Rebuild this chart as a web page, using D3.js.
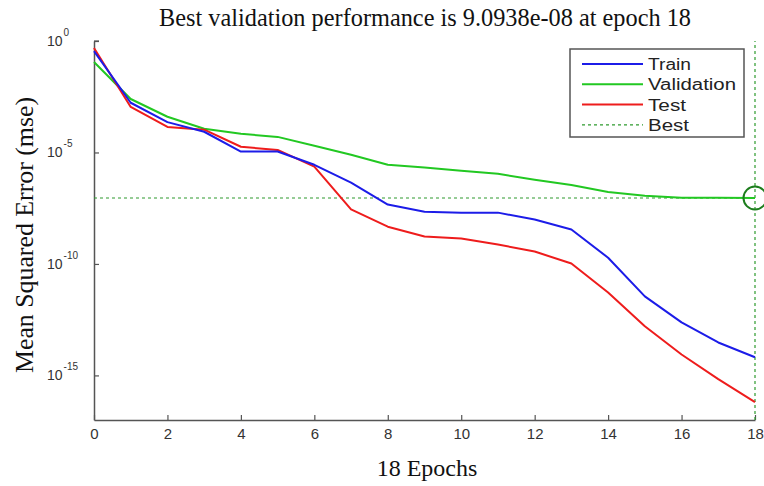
<!DOCTYPE html>
<html>
<head>
<meta charset="utf-8">
<script src="https://cdn.jsdelivr.net/npm/d3@7/dist/d3.min.js"></script>
<style>
  body { margin: 0; background: #fff; }
  svg { display: block; }
</style>
</head>
<body>
<div id="chart"></div>
<script>
// values
var epochs = [0, 1, 2, 3, 4, 5, 6, 7, 8, 9, 10, 11, 12, 13, 14, 15, 16, 17, 18];
var trainMse = [3.5e-1, 1.7e-3, 2.3e-4, 8.5e-5, 1.1e-5, 1.1e-5, 2.8e-6, 4.4e-7, 4.6e-8, 2.2e-8,
                2.0e-8, 2.0e-8, 9.8e-9, 3.5e-9, 1.9e-10, 3.5e-12, 2.4e-13, 3.0e-14, 6.5e-15];
var validationMse = [1.15e-1, 2.5e-3, 4.0e-4, 1.15e-4, 6.9e-5, 5.0e-5, 2.0e-5, 7.9e-6, 2.8e-6, 2.1e-6,
                     1.5e-6, 1.1e-6, 6.0e-7, 3.5e-7, 1.7e-7, 1.15e-7, 9.3e-8, 9.2e-8, 9.0938e-8];
var testMse = [4.9e-1, 1.1e-3, 1.4e-4, 1.05e-4, 1.8e-5, 1.3e-5, 2.3e-6, 2.8e-8, 4.7e-9, 1.7e-9,
               1.4e-9, 7.4e-10, 3.6e-10, 1.05e-10, 5.2e-12, 1.6e-13, 8.7e-15, 6.8e-16, 6.3e-17];
var xTicks = [0, 2, 4, 6, 8, 10, 12, 14, 16, 18];
var yTickExps = [0, -5, -10, -15];
var bestEpoch = 18;
var bestValue = 9.0938e-8;
var legendNames = ["Train", "Validation", "Test", "Best"];

var width = 764, height = 486;
var margin = {left: 94, right: 9, top: 41, bottom: 66};

var svg = d3.select("#chart").append("svg")
    .attr("width", width)
    .attr("height", height);

var x = d3.scaleLinear().domain([0, 18]).range([margin.left, width - margin.right]);
var y = d3.scaleLog().domain([1e-17, 1]).range([height - margin.bottom, margin.top]);

var axisColor = "#555";
var sans = "Liberation Sans, Arial, sans-serif";
var serif = "Liberation Serif, Times New Roman, serif";

/* axes, ticks pointing inward */
var xAxis = svg.append("g")
    .attr("transform", "translate(0," + (height - margin.bottom) + ")")
    .call(d3.axisBottom(x).tickValues(xTicks).tickSize(-5).tickPadding(8).tickSizeOuter(0));

var yAxis = svg.append("g")
    .attr("transform", "translate(" + margin.left + ",0)")
    .call(d3.axisLeft(y).tickValues(yTickExps.map(function(e) { return Math.pow(10, e); }))
        .tickSize(-5).tickSizeOuter(0).tickFormat(""));

[xAxis, yAxis].forEach(function(g) {
    g.select(".domain").attr("stroke", axisColor).attr("stroke-width", 1.5);
    g.selectAll(".tick line").attr("stroke", axisColor).attr("stroke-width", 1.2);
});
xAxis.selectAll(".tick text")
    .attr("font-family", sans)
    .attr("font-size", 15)
    .attr("fill", "#333");

// top tick of the y axis
svg.append("line")
    .attr("x1", margin.left).attr("x2", margin.left + 5)
    .attr("y1", y(1)).attr("y2", y(1))
    .attr("stroke", axisColor).attr("stroke-width", 1.2);

// y tick labels with superscripts
var yLabels = svg.append("g").attr("class", "ylabels");
yTickExps.forEach(function(e) {
    var t = yLabels.append("text")
        .attr("x", 47)
        .attr("y", y(Math.pow(10, e)) + 5)
        .attr("text-anchor", "start")
        .attr("font-family", sans)
        .attr("font-size", 14)
        .attr("fill", "#333");
    t.append("tspan").text("10");
    t.append("tspan").attr("dx", 1).attr("dy", -10).attr("font-size", 10).text(e === 0 ? "0" : "-" + (-e));
});

/* best lines */
var bestColor = "#2e9a2e";
svg.append("line")
    .attr("x1", x(0)).attr("x2", x(bestEpoch))
    .attr("y1", y(bestValue)).attr("y2", y(bestValue))
    .attr("stroke", bestColor).attr("stroke-width", 1.2)
    .attr("stroke-dasharray", "3,3");
svg.append("line")
    .attr("x1", x(bestEpoch)).attr("x2", x(bestEpoch))
    .attr("y1", height - margin.bottom).attr("y2", margin.top)
    .attr("stroke", bestColor).attr("stroke-width", 1.2)
    .attr("stroke-dasharray", "3,3");

/* series */
var series = [
    {name: "Validation", values: validationMse, color: "#22c822"},
    {name: "Test", values: testMse, color: "#ee1c1c"},
    {name: "Train", values: trainMse, color: "#1c1ce8"}
];

var line = d3.line()
    .x(function(d, i) { return x(epochs[i]); })
    .y(function(d) { return y(d); });

svg.selectAll(".series")
    .data(series)
    .enter()
    .append("path")
    .attr("class", "series")
    .attr("fill", "none")
    .attr("stroke", function(d) { return d.color; })
    .attr("stroke-width", 2)
    .attr("stroke-linejoin", "round")
    .attr("d", function(d) { return line(d.values); });

// best point circle
svg.append("circle")
    .attr("cx", x(bestEpoch))
    .attr("cy", y(bestValue))
    .attr("r", 11.5)
    .attr("fill", "none")
    .attr("stroke", "#1d7d1d")
    .attr("stroke-width", 2);

/* legend */
var legend = svg.append("g").attr("class", "legend");
legend.append("rect")
    .attr("x", 570).attr("y", 49)
    .attr("width", 174).attr("height", 88)
    .attr("fill", "#fff")
    .attr("stroke", "#555")
    .attr("stroke-width", 1.5);

var legendStyle = [
    {color: "#1c1ce8", dash: null, len: 43},
    {color: "#22c822", dash: null, len: 88},
    {color: "#ee1c1c", dash: null, len: 38},
    {color: bestColor, dash: "3,3", len: 41}
];

legendNames.forEach(function(name, i) {
    var ly = 64 + i * 20.3;
    legend.append("line")
        .attr("x1", 582).attr("x2", 643)
        .attr("y1", ly).attr("y2", ly)
        .attr("stroke", legendStyle[i].color)
        .attr("stroke-width", legendStyle[i].dash ? 1.2 : 2)
        .attr("stroke-dasharray", legendStyle[i].dash);
    legend.append("text")
        .attr("x", 648).attr("y", ly + 6)
        .attr("font-family", sans)
        .attr("font-size", 16)
        .attr("textLength", legendStyle[i].len)
        .attr("lengthAdjust", "spacingAndGlyphs")
        .attr("fill", "#222")
        .text(name);
});

/* titles */
svg.append("text")
    .attr("x", 425).attr("y", 26)
    .attr("text-anchor", "middle")
    .attr("font-family", serif)
    .attr("font-size", 26)
    .attr("textLength", 532)
    .attr("lengthAdjust", "spacingAndGlyphs")
    .attr("fill", "#111")
    .text("Best validation performance is 9.0938e-08 at epoch 18");

svg.append("text")
    .attr("x", 427).attr("y", 476)
    .attr("text-anchor", "middle")
    .attr("font-family", serif)
    .attr("font-size", 24)
    .attr("fill", "#111")
    .text("18 Epochs");

svg.append("text")
    .attr("transform", "translate(33,235) rotate(-90)")
    .attr("text-anchor", "middle")
    .attr("font-family", serif)
    .attr("font-size", 26)
    .attr("textLength", 276)
    .attr("lengthAdjust", "spacingAndGlyphs")
    .attr("fill", "#111")
    .text("Mean Squared Error (mse)");
</script>
</body>
</html>
